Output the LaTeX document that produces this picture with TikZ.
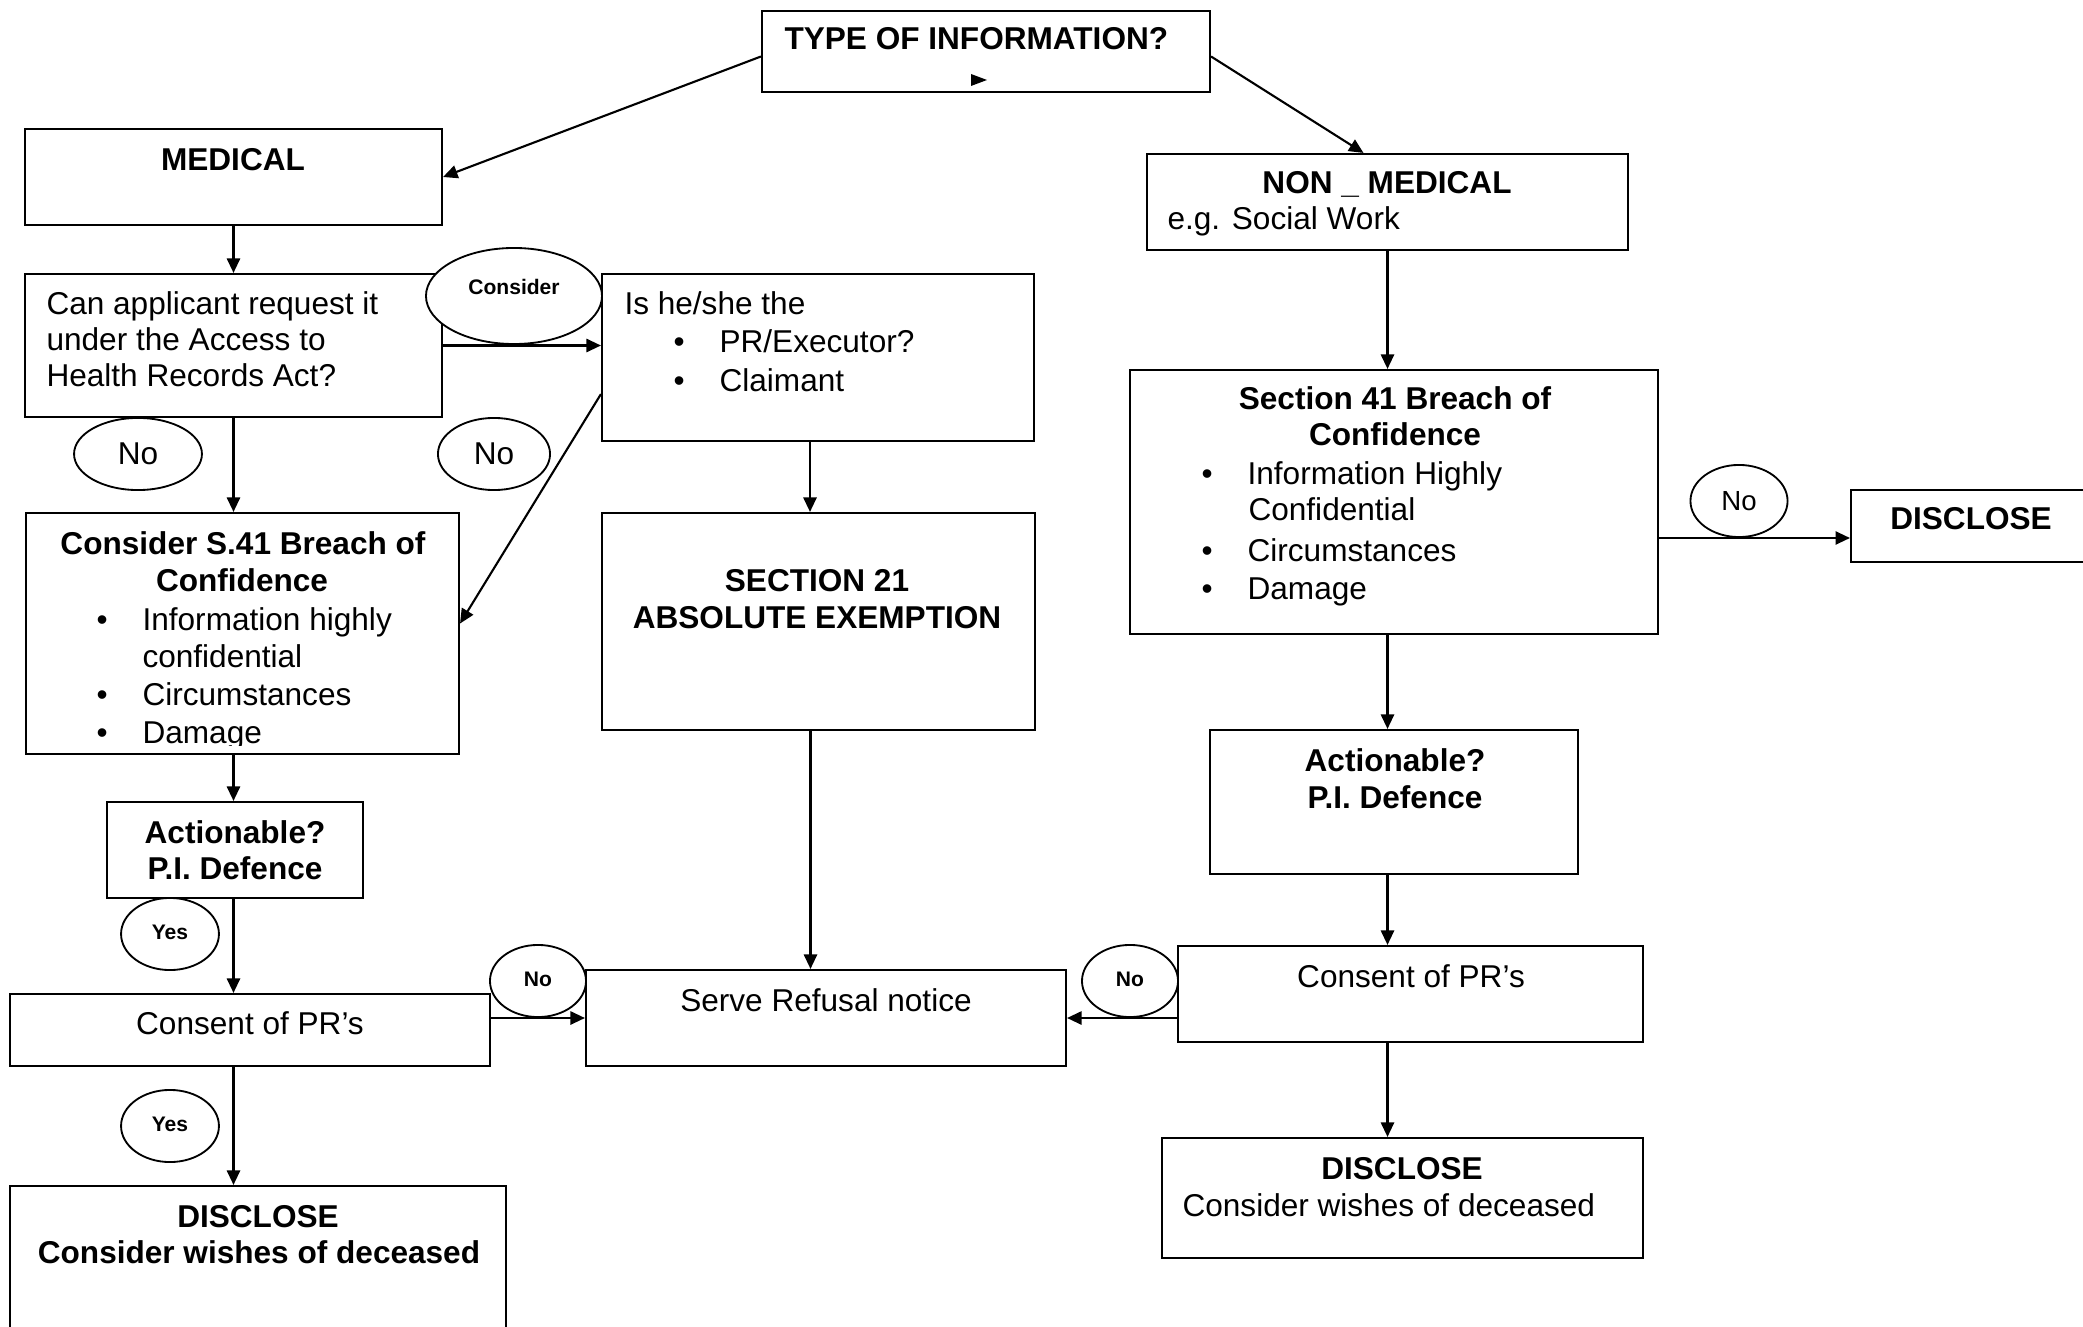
\documentclass[tikz,border=0pt]{standalone}
\usepackage{fontspec}
\setmainfont{Liberation Sans}
\usetikzlibrary{calc,fit,shapes.geometric,arrows.meta}

\newcommand{\itembul}{\makebox[17.5pt][l]{\textbullet}}

\tikzset{
  box/.style={draw,rectangle,line width=0.8pt,inner sep=0pt},
  tag/.style={draw,ellipse,line width=0.7pt,fill=white,inner sep=0pt},
  txt/.style={anchor=base,inner sep=0pt,font=\fontsize{12}{14}\selectfont},
  btxt/.style={txt,font=\fontsize{12}{14}\selectfont\bfseries},
  ltxt/.style={txt,anchor=base west},
  stxt/.style={font=\fontsize{8}{9}\selectfont\bfseries},
  flow/.style={-{Triangle[length=5.5pt,width=5pt]},line width=0.8pt}
}

\begin{document}
\begin{tikzpicture}[x=0.38pt,y=-0.38pt]
\useasboundingbox (0,0) rectangle (2083,1327);
\clip (0,0) rectangle (2083,1327);

% boxes
\node[box,fit={(762,11) (1210,92)}] (type) {};
\node[box,fit={(25,129) (442,225)}] (medical) {};
\node[box,fit={(1147,154) (1628,250)}] (nonmed) {};
\node[box,fit={(25,274) (442,417)}] (access) {};
\node[box,fit={(602,274) (1034,441)}] (pr) {};
\node[box,fit={(26,513) (459,754)}] (breachl) {};
\node[box,fit={(602,513) (1035,730)}] (sec21) {};
\node[box,fit={(107,802) (363,898)}] (actl) {};
\node[box,fit={(10,994) (490,1066)}] (consl) {};
\node[box,fit={(586,970) (1066,1066)}] (refuse) {};
\node[box,fit={(10,1186) (506,1345)}] (discl) {};
\node[box,fit={(1130,370) (1658,634)}] (breachr) {};
\node[box,fit={(1851,490) (2100,562)}] (discr) {};
\node[box,fit={(1210,730) (1578,874)}] (actr) {};
\node[box,fit={(1178,946) (1643,1042)}] (consr) {};
\node[box,fit={(1162,1138) (1643,1258)}] (discb) {};

\coordinate (prout) at ($(pr.south)+(-8,0)$);
\coordinate (s21out) at ($(sec21.south)+(-8,0)$);
\coordinate (dcin) at ($(discr.west)+(0,12)$);

% connectors
\draw[flow] ($(type.west)+(0,5)$) -- (medical.east);
\draw[flow] ($(type.east)+(0,5)$) -- ($(nonmed.north)+(-24,0)$);
\draw[flow] (medical.south) -- (access.north);
\draw[flow] (access.east) -- (access.east -| pr.west);
\draw[flow] (access.south) -- (access.south |- breachl.north);
\draw[flow] ($(pr.south west)+(0,-48)$) -- ($(breachl.east)+(0,-10)$);
\draw[flow] (prout) -- (prout |- sec21.north);
\draw[flow] (access.south |- breachl.south) -- (access.south |- actl.north);
\draw[flow] (access.south |- actl.south) -- (access.south |- consl.north);
\draw[flow] (access.south |- consl.south) -- (access.south |- discl.north);
\draw[flow] (consl.east |- refuse.west) -- (refuse.west);
\draw[flow] (s21out) -- (s21out |- refuse.north);

\draw[flow] (nonmed.south) -- (nonmed.south |- breachr.north);
\draw[flow] (breachr.east |- dcin) -- (dcin);
\draw[flow] (nonmed.south |- breachr.south) -- (nonmed.south |- actr.north);
\draw[flow] (nonmed.south |- actr.south) -- (nonmed.south |- consr.north);
\draw[flow] (nonmed.south |- consr.south) -- (nonmed.south |- discb.north);
\draw[flow] (consr.west |- refuse.east) -- (refuse.east);

\fill (971,74) -- (987,80) -- (971,86) -- cycle;

% tags
\node[tag,stxt,minimum width=66.9pt,minimum height=36.5pt] (consider) at (514,296) {\raisebox{7pt}{Consider}};
\node[tag,minimum width=48.6pt,minimum height=27.4pt,font=\fontsize{12}{14}\selectfont] (noa) at (138,454) {No};
\node[tag,minimum width=42.6pt,minimum height=27.4pt,font=\fontsize{12}{14}\selectfont] (nob) at (494,454) {No};
\node[tag,stxt,minimum width=37.2pt,minimum height=27.4pt] (yesa) at (170,934) {\raisebox{1.5pt}{Yes}};
\node[tag,stxt,minimum width=37.2pt,minimum height=27.4pt] (yesb) at (170,1126) {\raisebox{1.5pt}{Yes}};
\node[tag,stxt,minimum width=36.5pt,minimum height=27.4pt] (noc) at (538,981) {\raisebox{1.5pt}{No}};
\node[tag,minimum width=36.9pt,minimum height=27.4pt,font=\fontsize{10.5}{12}\selectfont] (nod) at (1739,501) {No};
\node[tag,stxt,minimum width=36.5pt,minimum height=27.4pt] (noe) at (1130,981) {\raisebox{1.5pt}{No}};

% texts
\node[btxt,anchor=base west] (typet) at (784,50) {TYPE OF INFORMATION?};
\node[btxt] (medt) at (233,171) {MEDICAL};
\node[btxt] (nonmedt) at (1387,194) {NON \_ MEDICAL};
\node[ltxt] (nonmeds) at (1167,230) {e.g. Social Work};

\node[ltxt] (acc1) at (46,315) {Can applicant request it};
\node[ltxt] (acc2) at (46,351) {under the Access to};
\node[ltxt] (acc3) at (46,387) {Health Records Act?};

\node[ltxt] (pr1) at (624,315) {Is he/she the};
\node[ltxt] (pr2) at (673,353) {\itembul PR/Executor?};
\node[ltxt] (pr3) at (673,392) {\itembul Claimant};

\node[btxt] (bl1) at (243,554) {Consider S.41 Breach of};
\node[btxt] (bl2) at (242,591) {Confidence};
\node[ltxt] (bl3) at (96,630) {\itembul Information highly};
\node[ltxt] (bl4) at (142,667) {confidential};
\node[ltxt] (bl5) at (96,705) {\itembul Circumstances};
\begin{scope}
\clip (26,513) rectangle (459,745);
\node[ltxt] (bl6) at (96,743) {\itembul Damage};
\end{scope}

\node[btxt] (s21a) at (817,591) {SECTION 21};
\node[btxt] (s21b) at (817,628) {ABSOLUTE EXEMPTION};

\node[btxt] (al1) at (235,843) {Actionable?};
\node[btxt] (al2) at (235,879) {P.I. Defence};
\node[txt] (cl) at (250,1034) {Consent of PR’s};
\node[txt] (ref) at (826,1011) {Serve Refusal notice};
\node[btxt] (dl1) at (258,1227) {DISCLOSE};
\node[btxt] (dl2) at (259,1263) {Consider wishes of deceased};

\node[btxt] (br1) at (1395,410) {Section 41 Breach of};
\node[btxt] (br2) at (1395,446) {Confidence};
\node[ltxt] (br3) at (1201,485) {\itembul Information Highly};
\node[ltxt] (br4) at (1248,521) {Confidential};
\node[ltxt] (br5) at (1201,561) {\itembul Circumstances};
\node[ltxt] (br6) at (1201,599) {\itembul Damage};

\node[btxt] (dr) at (1971,529) {DISCLOSE};
\node[btxt] (ar1) at (1395,771) {Actionable?};
\node[btxt] (ar2) at (1395,808) {P.I. Defence};
\node[txt] (cr) at (1411,987) {Consent of PR’s};
\node[btxt] (db1) at (1402,1179) {DISCLOSE};
\node[ltxt] (db2) at (1182,1216) {Consider wishes of deceased};

\end{tikzpicture}
\end{document}
